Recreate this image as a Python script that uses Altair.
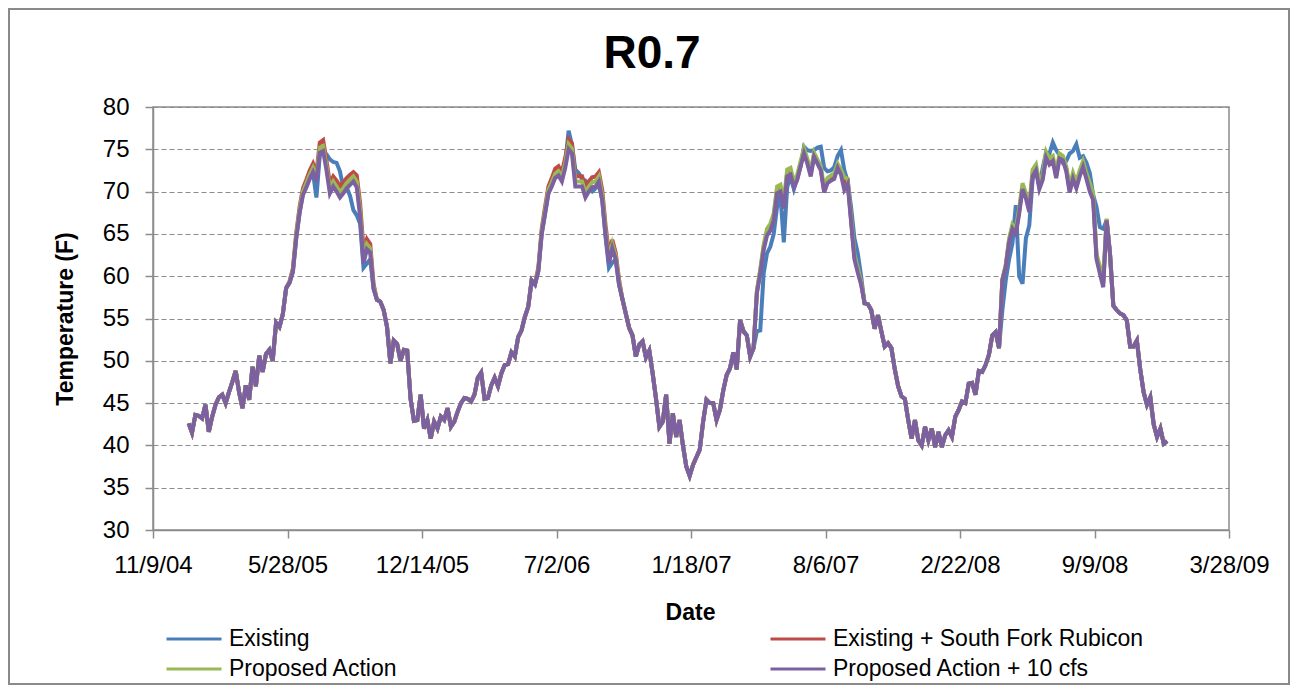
import altair as alt
import pandas as pd

# ---------------- data ----------------
start_date = "2005-01-01"
step_days = 5

proposed_10cfs = [
    42.6, 41.5, 43.6, 43.5, 43.2, 44.8, 41.6, 43.4, 44.8, 45.7,
    46.0, 45.0, 46.3, 47.5, 48.8, 46.3, 44.4, 47.1, 45.4, 49.3,
    47.0, 50.6, 48.7, 50.8, 51.3, 50.0, 54.5, 54.0, 55.5, 58.6,
    59.2, 60.5, 64.5, 67.5, 69.6, 70.5, 71.5, 72.3, 71.2, 74.6,
    74.8, 72.5, 69.8, 70.6, 70.0, 69.3, 69.8, 70.4, 70.8, 71.2,
    70.5, 67.0, 61.5, 63.2, 62.8, 58.5, 57.2, 57.0, 56.0, 54.0,
    49.7, 52.4, 52.0, 50.0, 51.3, 51.2, 45.5, 42.9, 43.0, 46.0,
    42.0, 43.0, 40.8, 42.8, 42.0, 43.4, 43.0, 44.4, 42.2, 42.8,
    44.0, 45.0, 45.6, 45.5, 45.2, 46.0, 48.0, 48.6, 45.5, 45.6,
    47.1, 48.0, 47.0, 48.5, 49.5, 49.6, 51.0, 50.5, 52.8, 53.6,
    55.2, 56.4, 59.5, 59.0, 60.6, 65.0, 67.4, 69.8, 70.6, 71.6,
    71.9, 71.2, 72.8, 75.0, 74.5, 70.6, 70.6, 70.6, 69.3, 70.0,
    70.5, 70.6, 71.2, 69.0, 64.8, 61.5, 63.3, 62.0, 59.0, 57.3,
    55.6, 53.9, 53.0, 50.5, 51.9, 52.3, 50.4, 51.2, 48.5, 45.5,
    42.2, 42.8, 46.0, 40.2, 43.8, 41.0, 43.0, 40.0, 37.5, 36.4,
    37.7, 38.6, 39.5, 42.8, 45.4, 45.0, 45.0, 43.0, 44.2, 46.5,
    48.3, 49.1, 51.0, 49.0, 54.8, 53.5, 53.0, 50.5, 51.5, 58.0,
    60.3, 63.1, 64.8, 65.4, 66.6, 69.8, 70.0, 68.0, 71.8, 72.0,
    70.5, 71.4, 73.0, 74.5, 73.3, 71.8, 74.1, 73.3, 72.5, 69.9,
    71.0, 71.3, 71.5, 72.8, 72.0, 70.2, 70.9, 66.5, 62.0, 60.4,
    59.0, 56.8, 56.7, 56.0, 53.8, 55.4, 53.5, 51.7, 52.1, 51.5,
    49.0, 47.0, 45.8, 45.5, 43.0, 40.8, 43.0, 40.6, 40.0, 42.2,
    40.6, 42.0, 39.8, 41.6, 39.8, 41.2, 41.8, 41.0, 43.4, 44.2,
    45.2, 45.0, 47.3, 47.4, 46.0, 48.8, 48.7, 49.5, 50.7, 53.0,
    53.4, 51.5, 59.5, 61.1, 64.0, 65.6, 65.0, 67.4, 70.3, 69.2,
    67.6, 71.8, 72.5, 70.3, 71.4, 74.0, 73.2, 73.6, 71.6, 73.9,
    73.7, 72.4, 69.9, 71.5, 70.4, 71.8, 72.9, 71.5, 70.0, 69.0,
    62.0, 60.3, 58.7, 66.6, 62.7, 56.5, 56.0, 55.6, 55.4, 54.8,
    51.7, 51.7, 52.4, 49.0, 46.3, 44.8, 45.7, 42.5, 41.0, 42.0,
    40.2, 40.5,
]

proposed_action = [
    42.6, 41.5, 43.6, 43.5, 43.2, 44.8, 41.6, 43.4, 44.8, 45.7,
    46.0, 45.0, 46.3, 47.5, 48.8, 46.3, 44.4, 47.1, 45.4, 49.3,
    47.0, 50.6, 48.7, 50.8, 51.3, 50.0, 54.5, 54.0, 55.5, 58.6,
    59.3, 60.7, 64.8, 67.9, 70.0, 71.0, 72.0, 72.8, 71.7, 75.2,
    75.4, 73.0, 70.4, 71.2, 70.6, 69.9, 70.4, 71.0, 71.4, 71.8,
    71.2, 67.8, 62.3, 63.8, 63.3, 58.8, 57.2, 57.0, 56.0, 54.0,
    49.7, 52.4, 52.0, 50.0, 51.3, 51.2, 45.5, 42.9, 43.0, 46.0,
    42.0, 43.0, 40.8, 42.8, 42.0, 43.4, 43.0, 44.4, 42.2, 42.8,
    44.0, 45.0, 45.6, 45.5, 45.2, 46.0, 48.0, 48.6, 45.5, 45.6,
    47.1, 48.0, 47.0, 48.5, 49.5, 49.6, 51.0, 50.5, 52.8, 53.6,
    55.2, 56.4, 59.5, 59.1, 60.8, 65.3, 67.8, 70.2, 71.1, 72.1,
    72.4, 71.7, 73.4, 75.6, 75.1, 71.2, 71.2, 71.2, 69.9, 70.6,
    71.1, 71.2, 71.8, 69.6, 65.4, 62.1, 63.8, 62.4, 59.3, 57.3,
    55.6, 53.9, 53.0, 50.5, 51.9, 52.3, 50.4, 51.2, 48.5, 45.5,
    42.2, 42.8, 46.0, 40.2, 43.8, 41.0, 43.0, 40.0, 37.5, 36.4,
    37.7, 38.6, 39.5, 42.8, 45.4, 45.0, 45.0, 43.0, 44.2, 46.5,
    48.3, 49.1, 51.0, 49.0, 54.8, 53.5, 53.0, 50.5, 51.5, 58.3,
    60.8, 63.7, 65.6, 66.2, 67.4, 70.6, 70.8, 68.8, 72.6, 72.8,
    71.1, 72.0, 73.6, 75.1, 73.9, 72.4, 74.6, 73.8, 73.0, 70.4,
    71.6, 71.9, 72.1, 73.3, 72.6, 71.7, 71.5, 67.0, 62.6, 61.0,
    59.3, 56.9, 56.7, 56.0, 53.8, 55.4, 53.5, 51.7, 52.1, 51.5,
    49.0, 47.0, 45.8, 45.5, 43.0, 40.8, 43.0, 40.6, 40.0, 42.2,
    40.6, 42.0, 39.8, 41.6, 39.8, 41.2, 41.8, 41.0, 43.4, 44.2,
    45.2, 45.0, 47.3, 47.4, 46.0, 48.8, 48.7, 49.5, 50.7, 53.0,
    53.4, 51.5, 59.6, 61.3, 64.4, 66.1, 65.6, 68.0, 71.0, 69.8,
    68.3, 72.6, 73.2, 71.0, 72.1, 74.7, 73.9, 74.2, 72.2, 74.5,
    74.2, 73.0, 70.6, 72.2, 71.1, 72.5, 73.6, 72.2, 71.0, 69.8,
    62.6, 61.2, 59.8, 66.8, 62.7, 56.5, 56.0, 55.6, 55.4, 54.8,
    51.7, 51.7, 52.4, 49.0, 46.3, 44.8, 45.7, 42.5, 41.0, 42.0,
    40.2, 40.5,
]

existing_sfr = [
    42.6, 41.5, 43.6, 43.5, 43.2, 44.8, 41.6, 43.4, 44.8, 45.7,
    46.0, 45.0, 46.3, 47.5, 48.8, 46.3, 44.4, 47.1, 45.4, 49.3,
    47.0, 50.6, 48.7, 50.8, 51.3, 50.0, 54.5, 54.0, 55.5, 58.6,
    59.4, 60.9, 65.1, 68.2, 70.4, 71.4, 72.5, 73.3, 72.2, 75.8,
    76.1, 73.6, 71.0, 71.8, 71.3, 70.6, 71.1, 71.6, 72.0, 72.3,
    71.9, 68.6, 63.2, 64.4, 63.8, 59.1, 57.2, 57.0, 56.0, 54.0,
    49.7, 52.4, 52.0, 50.0, 51.3, 51.2, 45.5, 42.9, 43.0, 46.0,
    42.0, 43.0, 40.8, 42.8, 42.0, 43.4, 43.0, 44.4, 42.2, 42.8,
    44.0, 45.0, 45.6, 45.5, 45.2, 46.0, 48.0, 48.6, 45.5, 45.6,
    47.1, 48.0, 47.0, 48.5, 49.5, 49.6, 51.0, 50.5, 52.8, 53.6,
    55.2, 56.4, 59.5, 59.2, 61.0, 65.6, 68.2, 70.6, 71.6, 72.7,
    73.0, 72.3, 74.0, 76.2, 75.7, 71.8, 71.8, 71.8, 70.6, 71.2,
    71.7, 71.8, 72.3, 70.2, 66.0, 62.7, 64.3, 62.8, 59.6, 57.3,
    55.6, 53.9, 53.0, 50.5, 51.9, 52.3, 50.4, 51.2, 48.5, 45.5,
    42.2, 42.8, 46.0, 40.2, 43.8, 41.0, 43.0, 40.0, 37.5, 36.4,
    37.7, 38.6, 39.5, 42.8, 45.4, 45.0, 45.0, 43.0, 44.2, 46.5,
    48.3, 49.1, 51.0, 49.0, 54.8, 53.5, 53.0, 50.5, 51.5, 58.2,
    60.6, 63.4, 65.2, 65.8, 67.0, 70.2, 70.4, 68.4, 72.2, 72.4,
    70.8, 71.7, 73.3, 74.8, 73.6, 72.1, 74.4, 73.5, 72.7, 70.1,
    71.3, 71.6, 71.8, 73.0, 72.3, 71.0, 71.2, 66.7, 62.3, 60.7,
    59.2, 56.9, 56.7, 56.0, 53.8, 55.4, 53.5, 51.7, 52.1, 51.5,
    49.0, 47.0, 45.8, 45.5, 43.0, 40.8, 43.0, 40.6, 40.0, 42.2,
    40.6, 42.0, 39.8, 41.6, 39.8, 41.2, 41.8, 41.0, 43.4, 44.2,
    45.2, 45.0, 47.3, 47.4, 46.0, 48.8, 48.7, 49.5, 50.7, 53.0,
    53.4, 51.5, 59.6, 61.2, 64.2, 65.9, 65.3, 67.7, 70.6, 69.5,
    67.9, 72.2, 72.8, 70.6, 71.7, 74.3, 73.5, 73.9, 71.9, 74.2,
    73.9, 72.7, 70.2, 71.8, 70.7, 72.1, 73.2, 71.8, 70.5, 69.4,
    62.3, 60.7, 59.2, 66.7, 62.7, 56.5, 56.0, 55.6, 55.4, 54.8,
    51.7, 51.7, 52.4, 49.0, 46.3, 44.8, 45.7, 42.5, 41.0, 42.0,
    40.2, 40.5,
]

existing = [
    42.6, 41.5, 43.6, 43.5, 43.2, 44.8, 41.6, 43.4, 44.8, 45.7,
    46.0, 45.0, 46.3, 47.5, 48.8, 46.3, 44.4, 47.1, 45.4, 49.3,
    47.0, 50.6, 48.7, 50.8, 51.3, 50.0, 54.5, 54.0, 55.5, 58.6,
    59.2, 60.5, 64.5, 67.5, 69.8, 70.6, 71.6, 72.2, 69.3, 74.3,
    74.6, 74.4, 73.8, 73.5, 73.4, 72.4, 70.4, 70.5, 69.5, 67.8,
    67.2, 66.2, 61.0, 61.5, 62.0, 58.5, 57.2, 57.0, 56.0, 54.0,
    49.7, 52.4, 52.0, 50.0, 51.3, 51.2, 45.5, 42.9, 43.0, 46.0,
    42.0, 43.0, 40.8, 42.8, 42.0, 43.4, 43.0, 44.4, 42.2, 42.8,
    44.0, 45.0, 45.6, 45.5, 45.2, 46.0, 48.0, 48.6, 45.5, 45.6,
    47.1, 48.0, 47.0, 48.5, 49.5, 49.6, 51.0, 50.5, 52.8, 53.6,
    55.2, 56.4, 59.5, 59.0, 60.6, 65.0, 67.4, 69.8, 70.8, 71.8,
    72.2, 71.5, 73.3, 77.2, 75.5, 72.6, 72.2, 71.5, 71.3, 70.2,
    70.0, 70.4, 70.8, 69.0, 64.6, 61.0, 61.6, 62.0, 59.0, 57.3,
    55.6, 53.9, 53.0, 50.5, 51.9, 52.3, 50.4, 51.2, 48.5, 45.5,
    42.2, 42.8, 46.0, 40.2, 43.8, 41.0, 43.0, 40.0, 37.5, 36.4,
    37.7, 38.6, 39.5, 42.8, 45.4, 45.0, 45.0, 43.0, 44.2, 46.5,
    48.3, 49.1, 51.0, 49.0, 54.8, 53.5, 53.0, 50.5, 51.5, 53.5,
    53.6, 60.3, 62.7, 63.5, 65.0, 68.2, 69.5, 64.0, 70.5, 71.8,
    70.3, 71.6, 73.0, 75.3, 74.9, 74.8, 74.9, 75.2, 75.3, 72.8,
    72.4, 72.5, 72.9, 74.2, 74.9, 72.5, 71.2, 68.2, 64.5, 62.7,
    60.0, 56.8, 56.7, 56.0, 53.8, 55.4, 53.5, 51.7, 52.1, 51.5,
    49.0, 47.0, 45.8, 45.5, 43.0, 40.8, 43.0, 40.6, 40.0, 42.2,
    40.6, 42.0, 39.8, 41.6, 39.8, 41.2, 41.8, 41.0, 43.4, 44.2,
    45.2, 45.0, 47.3, 47.4, 46.0, 48.8, 48.7, 49.5, 50.7, 53.0,
    53.4, 51.5, 56.0, 59.5, 62.0, 63.9, 68.4, 60.0, 59.1, 64.5,
    66.0, 71.5, 72.6, 70.6, 72.8, 74.6, 74.5, 75.8, 74.9, 74.3,
    73.4, 73.6, 74.5, 74.8, 75.6, 74.0, 74.2, 73.4, 72.2, 69.6,
    68.2, 65.8, 65.6, 66.6, 62.7, 56.5, 56.0, 55.6, 55.4, 54.8,
    51.7, 51.7, 52.4, 49.0, 46.3, 44.8, 45.7, 42.5, 41.0, 42.0,
    40.2, 40.5,
]

series_names = ["Existing", "Existing + South Fork Rubicon",
                "Proposed Action", "Proposed Action + 10 cfs"]
series_colors = ["#4A7EBB", "#BE4B48", "#98B954", "#7D60A0"]

chart_title = "R0.7"
x_tick_labels = ["2004-11-09", "2005-05-28", "2005-12-14", "2006-07-02",
                 "2007-01-18", "2007-08-06", "2008-02-22", "2008-09-09",
                 "2009-03-28"]
y_ticks = [30, 35, 40, 45, 50, 55, 60, 65, 70, 75, 80]

# ---------------- table ----------------
all_series = [existing, existing_sfr, proposed_action, proposed_10cfs]
n = len(proposed_10cfs)
dates = pd.date_range(start_date, periods=n, freq=f"{step_days}D")
date_str = [d.strftime("%Y-%m-%dT00:00:00Z") for d in dates]
rows = []
for name, vals in zip(series_names, all_series):
    for d, v in zip(date_str, vals):
        rows.append({"date": d, "temp": v, "series": name})
df = pd.DataFrame(rows)


def ms(s):
    return int(pd.Timestamp(s, tz="UTC").value // 10**6)


x_tick_ms = [ms(t) for t in x_tick_labels]

FONT = "Liberation Sans"
GRAY = "#8C8C8C"

W, H = 1076, 423
PAD_L, PAD_T, PAD_R, PAD_B = 145, 99, 62, 155

color_enc = alt.Color(
    "series:N",
    scale=alt.Scale(domain=series_names, range=series_colors),
    legend=alt.Legend(
        title=None, orient="none", legendX=12, legendY=518,
        direction="horizontal", columns=2, columnPadding=371, rowPadding=2,
        symbolType="stroke", symbolSize=3025, symbolStrokeWidth=3,
        labelFont=FONT, labelFontSize=23, labelColor="black",
        labelLimit=600, labelOffset=6, clipHeight=28, padding=0,
    ),
)

x_enc = alt.X(
    "date:T",
    scale=alt.Scale(type="utc", domain=[x_tick_ms[0], x_tick_ms[-1]]),
    axis=alt.Axis(
        values=x_tick_ms, format="%-m/%-d/%y", title="Date",
        labelFlush=False, labelOverlap=False, grid=False,
        labelPadding=15, tickSize=8,
        titleX=537, titleY=82, titleBaseline="middle", titleAlign="center",
    ),
)
y_enc = alt.Y(
    "temp:Q",
    scale=alt.Scale(domain=[30, 80], nice=False, zero=False),
    axis=alt.Axis(
        values=y_ticks, title="Temperature (F)", grid=True,
        gridDash=[5, 3], gridColor=GRAY, gridWidth=1,
        labelPadding=16, tickSize=8,
        titleX=-88, titleY=H / 2, titleAngle=270,
        titleBaseline="middle", titleAlign="center",
    ),
)

layers = []
for name in series_names:
    layers.append(
        alt.Chart(df)
        .transform_filter(alt.datum.series == name)
        .mark_line(strokeWidth=4, clip=True)
        .encode(x=x_enc, y=y_enc, color=color_enc)
    )

one_row = pd.DataFrame({"label": [chart_title]})

title_mark = (
    alt.Chart(one_row)
    .mark_text(font=FONT, fontSize=46, fontWeight="bold", color="black",
               align="center", baseline="alphabetic")
    .encode(text="label:N", x=alt.value(499), y=alt.value(-39))
)

frame = (
    alt.Chart(one_row)
    .mark_rect(fill="transparent", stroke="#8A8A8A", strokeWidth=2)
    .encode(
        x=alt.value(-PAD_L + 1), x2=alt.value(W + PAD_R - 2),
        y=alt.value(-PAD_T + 1), y2=alt.value(H + PAD_B - 1),
    )
)

chart = (
    alt.layer(*layers, title_mark, frame)
    .properties(
        width=W, height=H,
        autosize=alt.AutoSizeParams(type="none"),
        padding={"left": PAD_L, "top": PAD_T, "right": PAD_R, "bottom": PAD_B},
        background="white",
    )
    .configure_view(stroke=GRAY, strokeWidth=1.5)
    .configure_axis(
        labelFont=FONT, labelFontSize=24, labelColor="black",
        titleFont=FONT, titleFontSize=23, titleFontWeight="bold",
        titleColor="black", domainColor=GRAY, tickColor=GRAY,
        domainWidth=1.5, tickWidth=1.5,
    )
)

chart.save("out.html", embed_options={"renderer": "svg", "actions": False})
